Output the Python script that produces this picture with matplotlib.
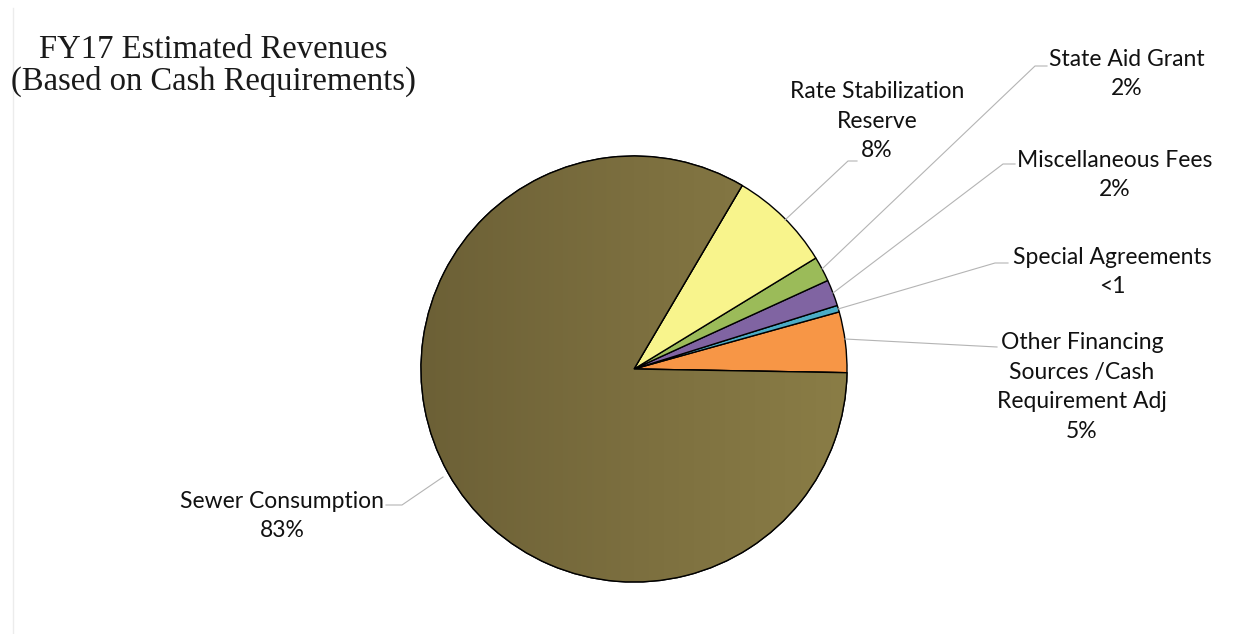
"""FY17 estimated revenues pie chart with leader-line labels."""
import numpy as np
import matplotlib.pyplot as plt
from matplotlib.patches import Wedge
from matplotlib.colors import LinearSegmentedColormap

# revenue shares (percent), counter-clockwise from 3 o'clock
categories = ["Other Financing\nSources /Cash\nRequirement Adj",
              "Special Agreements",
              "Miscellaneous Fees",
              "State Aid Grant",
              "Rate Stabilization\nReserve",
              "Sewer Consumption"]
shares = [4.6, 0.5, 2.0, 1.9, 7.8, 83.2]
colors = ["#f79646", "#4bacc6", "#8064a2", "#9bbb59", "#f8f48c", "#807340"]

W, H = 1248, 634


def pct_text(v):
    return "<1" if v < 1 else f"{round(v)}%"


fig = plt.figure(figsize=(W / 100, H / 100), dpi=100)
ax = fig.add_axes([0, 0, 1, 1])

cx, cy, r = 634, H - 369, 213
wedges, _ = ax.pie(shares, colors=colors, startangle=-1, counterclock=True,
                   center=(cx, cy), radius=r, frame=True,
                   wedgeprops=dict(edgecolor="black", linewidth=1.0))
ax.set_xlim(0, W)
ax.set_ylim(0, H)
ax.set_aspect("equal")
ax.axis("off")

# shaded fill for the big slice: a bit darker on the left
shade = LinearSegmentedColormap.from_list("olive", ["#6c6036", "#7c6f3f", "#8a7d46"])
grad = np.linspace(0, 1, 256).reshape(1, -1)
big = wedges[-1]
img = ax.imshow(grad, cmap=shade, extent=(cx - r, cx + r, cy - r, cy + r),
                aspect="auto", zorder=big.get_zorder() + 0.1)
img.set_clip_path(big)
ax.add_patch(Wedge((cx, cy), r, big.theta1, big.theta2, fill=False,
                   edgecolor="black", linewidth=1.0, zorder=img.get_zorder() + 0.1))


def py(y):
    return H - y


# label anchors (pixel layout) and leader paths
label_pos = [(1082, 387), (1112, 272), (1115, 175), (1127, 74), (877, 121), (282, 516)]
leaders = [
    [(845, 339), (997, 347)],
    [(838, 309), (995, 263), (1008, 263)],
    [(833, 293), (1003, 164), (1015, 164)],
    [(822, 269), (1035, 66), (1047, 66)],
    [(785, 220), (848, 161), (857, 161)],
    [(443, 477), (402, 505), (386, 505)],
]

for name, v, (lx, ly), path in zip(categories, shares, label_pos, leaders):
    xs = [p[0] for p in path]
    ys = [py(p[1]) for p in path]
    ax.plot(xs, ys, color="#b4b4b4", linewidth=0.8, zorder=1)
    ax.text(lx, py(ly), f"{name}\n{pct_text(v)}", ha="center", va="center",
            fontsize=16.5, family="Lato", linespacing=1.5, color="#111111")

ax.text(213, py(66), "FY17 Estimated Revenues\n(Based on Cash Requirements)",
        ha="center", va="center", fontsize=23.5, family="Liberation Serif",
        linespacing=1.05, color="#1a1a1a")

ax.plot([13, 13], [0, py(8)], color="#ececec", linewidth=1.0)

fig.savefig("out.png", dpi=100)
